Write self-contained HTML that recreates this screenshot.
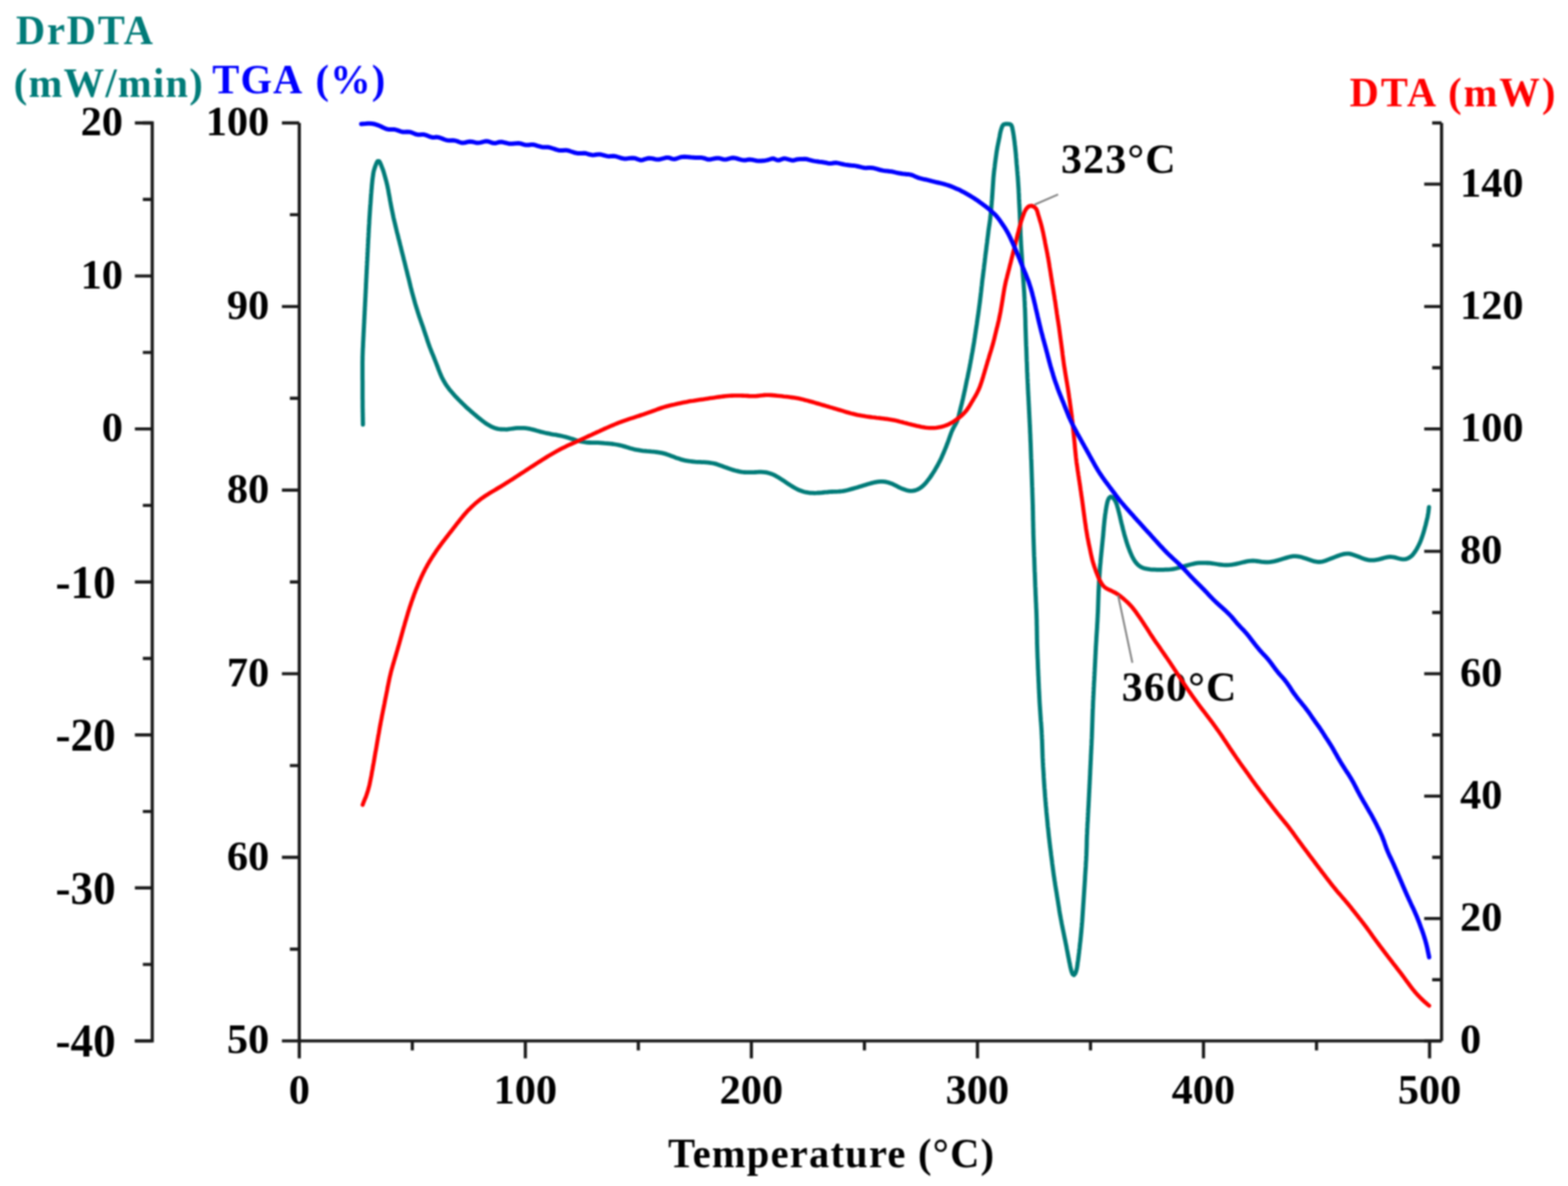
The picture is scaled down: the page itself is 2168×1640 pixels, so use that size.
<!DOCTYPE html>
<html><head><meta charset="utf-8"><title>TGA / DTA / DrDTA</title>
<style>
html,body{margin:0;padding:0;background:#fff;}
body{width:2168px;height:1640px;overflow:hidden;}
svg{display:block;filter:blur(1px);}
</style></head>
<body>
<svg width="2168" height="1640" viewBox="0 0 2168 1640" xmlns="http://www.w3.org/2000/svg">
<rect width="2168" height="1640" fill="#fff"/>
<g font-family="'Liberation Serif','Times New Roman',serif" font-weight="bold" font-size="56" fill="#000">
<path d="M197.5 170.0 H210.5 V1439.4 H186.5" stroke="#1a1a1a" stroke-width="4.4" fill="none" stroke-linecap="butt"/>
<path d="M186.5 170.0 H210.5 M197.5 275.8 H210.5 M186.5 381.6 H210.5 M197.5 487.4 H210.5 M186.5 593.1 H210.5 M197.5 698.9 H210.5 M186.5 804.7 H210.5 M197.5 910.5 H210.5 M186.5 1016.3 H210.5 M197.5 1122.1 H210.5 M186.5 1227.8 H210.5 M197.5 1333.6 H210.5 M186.5 1439.4 H210.5" stroke="#1a1a1a" stroke-width="4.4" fill="none" stroke-linecap="butt"/>
<text transform="translate(170.0 187.0) scale(1.045 1)" text-anchor="end">20</text>
<text transform="translate(170.0 398.6) scale(1.045 1)" text-anchor="end">10</text>
<text transform="translate(170.0 610.1) scale(1.045 1)" text-anchor="end">0</text>
<text transform="translate(160.0 826.7) scale(0.96 1)" text-anchor="end" font-size="65">-10</text>
<text transform="translate(160.0 1038.3) scale(0.96 1)" text-anchor="end" font-size="65">-20</text>
<text transform="translate(160.0 1249.8) scale(0.96 1)" text-anchor="end" font-size="65">-30</text>
<text transform="translate(160.0 1461.4) scale(0.96 1)" text-anchor="end" font-size="65">-40</text>
<path d="M413.8 170.0 V1439.4" stroke="#1a1a1a" stroke-width="4.4" fill="none" stroke-linecap="butt"/>
<path d="M389.8 170.0 H413.8 M400.8 296.9 H413.8 M389.8 423.9 H413.8 M400.8 550.8 H413.8 M389.8 677.8 H413.8 M400.8 804.7 H413.8 M389.8 931.6 H413.8 M400.8 1058.6 H413.8 M389.8 1185.5 H413.8 M400.8 1312.5 H413.8 M389.8 1439.4 H413.8" stroke="#1a1a1a" stroke-width="4.4" fill="none" stroke-linecap="butt"/>
<text transform="translate(372.3 187.0) scale(1.045 1)" text-anchor="end">100</text>
<text transform="translate(372.3 440.9) scale(1.045 1)" text-anchor="end">90</text>
<text transform="translate(372.3 694.8) scale(1.045 1)" text-anchor="end">80</text>
<text transform="translate(372.3 948.6) scale(1.045 1)" text-anchor="end">70</text>
<text transform="translate(372.3 1202.5) scale(1.045 1)" text-anchor="end">60</text>
<text transform="translate(372.3 1456.4) scale(1.045 1)" text-anchor="end">50</text>
<path d="M1993.2 170.0 V1439.4" stroke="#1a1a1a" stroke-width="4.4" fill="none" stroke-linecap="butt"/>
<path d="M1969.2 1439.4 H1993.2 M1980.2 1354.8 H1993.2 M1969.2 1270.1 H1993.2 M1980.2 1185.5 H1993.2 M1969.2 1100.9 H1993.2 M1980.2 1016.3 H1993.2 M1969.2 931.6 H1993.2 M1980.2 847.0 H1993.2 M1969.2 762.4 H1993.2 M1980.2 677.8 H1993.2 M1969.2 593.1 H1993.2 M1980.2 508.5 H1993.2 M1969.2 423.9 H1993.2 M1980.2 339.3 H1993.2 M1969.2 254.6 H1993.2 M1980.2 170.0 H1993.2" stroke="#1a1a1a" stroke-width="4.4" fill="none" stroke-linecap="butt"/>
<text transform="translate(2018.7 1456.4) scale(1.045 1)" text-anchor="start">0</text>
<text transform="translate(2018.7 1287.1) scale(1.045 1)" text-anchor="start">20</text>
<text transform="translate(2018.7 1117.9) scale(1.045 1)" text-anchor="start">40</text>
<text transform="translate(2018.7 948.6) scale(1.045 1)" text-anchor="start">60</text>
<text transform="translate(2018.7 779.4) scale(1.045 1)" text-anchor="start">80</text>
<text transform="translate(2018.7 610.1) scale(1.045 1)" text-anchor="start">100</text>
<text transform="translate(2018.7 440.9) scale(1.045 1)" text-anchor="start">120</text>
<text transform="translate(2018.7 271.6) scale(1.045 1)" text-anchor="start">140</text>
<path d="M413.8 1439.4 H1993.2" stroke="#1a1a1a" stroke-width="4.4" fill="none" stroke-linecap="butt"/>
<path d="M413.8 1439.4 V1463.4 M570.1 1439.4 V1452.4 M726.4 1439.4 V1463.4 M882.6 1439.4 V1452.4 M1038.9 1439.4 V1463.4 M1195.2 1439.4 V1452.4 M1351.5 1439.4 V1463.4 M1507.8 1439.4 V1452.4 M1664.0 1439.4 V1463.4 M1820.3 1439.4 V1452.4 M1976.6 1439.4 V1463.4" stroke="#1a1a1a" stroke-width="4.4" fill="none" stroke-linecap="butt"/>
<text transform="translate(413.8 1526) scale(1.045 1)" text-anchor="middle">0</text>
<text transform="translate(726.4 1526) scale(1.045 1)" text-anchor="middle">100</text>
<text transform="translate(1038.9 1526) scale(1.045 1)" text-anchor="middle">200</text>
<text transform="translate(1351.5 1526) scale(1.045 1)" text-anchor="middle">300</text>
<text transform="translate(1664.0 1526) scale(1.045 1)" text-anchor="middle">400</text>
<text transform="translate(1976.6 1526) scale(1.045 1)" text-anchor="middle">500</text>
<text x="1467" y="239.3" font-size="58" letter-spacing="1.6">323°C</text>
<text x="1551" y="969" font-size="58" letter-spacing="1.6">360°C</text>
</g>
<g>
<path d="M501.8 587.0 L501.8 584.0 L501.7 581.0 L501.7 578.0 L501.6 575.0 L501.6 572.0 L501.5 569.0 L501.5 566.0 L501.4 563.0 L501.4 560.0 L501.4 557.0 L501.4 554.0 L501.3 551.0 L501.3 548.0 L501.3 545.0 L501.3 542.0 L501.3 539.0 L501.3 536.0 L501.3 533.0 L501.3 530.0 L501.3 527.0 L501.2 524.0 L501.2 521.0 L501.2 518.0 L501.2 515.0 L501.2 512.0 L501.2 509.0 L501.2 506.0 L501.2 503.0 L501.2 500.0 L501.3 497.0 L501.3 494.0 L501.4 491.0 L501.5 488.0 L501.6 485.0 L501.7 482.0 L501.9 479.0 L502.0 476.0 L502.1 473.0 L502.3 470.0 L502.4 467.0 L502.6 464.0 L502.7 461.0 L502.9 458.0 L503.0 455.0 L503.2 452.0 L503.3 449.1 L503.5 446.1 L503.6 443.1 L503.8 440.1 L503.9 437.1 L504.1 434.1 L504.2 431.1 L504.4 428.1 L504.5 425.1 L504.7 422.1 L504.8 419.1 L505.0 416.1 L505.1 413.1 L505.3 410.1 L505.4 407.1 L505.6 404.1 L505.7 401.1 L505.9 398.1 L506.0 395.1 L506.1 392.1 L506.3 389.1 L506.4 386.1 L506.6 383.1 L506.7 380.1 L506.9 377.1 L507.0 374.1 L507.2 371.1 L507.3 368.2 L507.5 365.2 L507.6 362.2 L507.8 359.2 L507.9 356.2 L508.1 353.2 L508.2 350.2 L508.4 347.2 L508.5 344.2 L508.7 341.2 L508.8 338.2 L509.0 335.2 L509.1 332.2 L509.3 329.2 L509.5 326.2 L509.6 323.2 L509.8 320.2 L509.9 317.2 L510.1 314.2 L510.3 311.2 L510.5 308.2 L510.6 305.2 L510.8 302.2 L511.0 299.2 L511.2 296.3 L511.4 293.3 L511.6 290.3 L511.8 287.3 L512.0 284.3 L512.3 281.3 L512.5 278.3 L512.7 275.3 L512.9 272.3 L513.1 269.3 L513.4 266.3 L513.6 263.3 L513.9 260.4 L514.1 257.4 L514.4 254.4 L514.7 251.4 L515.0 248.4 L515.4 245.4 L515.8 242.5 L516.2 239.5 L516.8 236.6 L517.6 233.7 L518.6 230.8 L519.6 228.0 L520.7 225.2 L522.2 222.8 L524.3 222.9 L525.8 225.5 L526.9 228.2 L528.0 231.0 L529.1 233.8 L530.1 236.6 L531.0 239.5 L531.8 242.4 L532.6 245.3 L533.4 248.2 L534.2 251.1 L534.9 254.0 L535.6 256.9 L536.2 259.8 L536.8 262.8 L537.3 265.7 L537.8 268.7 L538.4 271.6 L538.9 274.6 L539.4 277.5 L540.0 280.5 L540.5 283.4 L541.1 286.4 L541.7 289.3 L542.3 292.3 L542.9 295.2 L543.5 298.1 L544.1 301.1 L544.8 304.0 L545.5 306.9 L546.2 309.8 L546.9 312.7 L547.6 315.7 L548.3 318.6 L549.0 321.5 L549.8 324.4 L550.5 327.3 L551.2 330.2 L552.0 333.1 L552.7 336.0 L553.4 338.9 L554.2 341.8 L554.9 344.8 L555.6 347.7 L556.3 350.6 L557.1 353.5 L557.8 356.4 L558.5 359.3 L559.3 362.2 L560.0 365.1 L560.7 368.0 L561.4 370.9 L562.2 373.9 L562.9 376.8 L563.6 379.7 L564.3 382.6 L565.1 385.5 L565.8 388.4 L566.5 391.3 L567.2 394.2 L567.9 397.2 L568.7 400.1 L569.4 403.0 L570.2 405.9 L571.0 408.8 L571.8 411.7 L572.6 414.5 L573.4 417.4 L574.2 420.3 L575.1 423.2 L576.0 426.1 L576.9 428.9 L577.8 431.8 L578.7 434.6 L579.6 437.5 L580.6 440.3 L581.6 443.1 L582.6 446.0 L583.6 448.8 L584.6 451.6 L585.6 454.5 L586.5 457.3 L587.5 460.2 L588.4 463.0 L589.4 465.8 L590.3 468.7 L591.2 471.5 L592.2 474.4 L593.2 477.2 L594.2 480.0 L595.3 482.8 L596.4 485.6 L597.5 488.4 L598.7 491.2 L599.8 493.9 L600.9 496.7 L602.0 499.5 L603.1 502.3 L604.2 505.1 L605.3 507.9 L606.3 510.7 L607.4 513.5 L608.5 516.3 L609.7 519.0 L610.9 521.8 L612.3 524.4 L613.7 527.1 L615.2 529.6 L616.8 532.1 L618.5 534.6 L620.3 537.0 L622.1 539.4 L624.1 541.7 L626.0 543.9 L628.0 546.2 L630.1 548.4 L632.1 550.5 L634.2 552.7 L636.3 554.8 L638.4 556.9 L640.6 559.0 L642.8 561.1 L644.9 563.2 L647.2 565.2 L649.4 567.2 L651.6 569.2 L653.9 571.1 L656.2 573.1 L658.5 575.0 L660.8 576.9 L663.1 578.8 L665.5 580.7 L667.8 582.5 L670.2 584.3 L672.7 586.0 L675.2 587.6 L677.8 589.1 L680.4 590.4 L683.1 591.5 L685.9 592.4 L688.7 593.1 L691.6 593.5 L694.6 593.7 L697.5 593.7 L700.5 593.8 L703.4 593.4 L706.4 593.0 L709.4 592.6 L712.4 592.2 L715.3 591.9 L718.3 591.8 L721.3 591.8 L724.3 591.9 L727.3 592.2 L730.3 592.6 L733.2 593.2 L736.1 593.9 L739.0 594.6 L741.9 595.5 L744.8 596.3 L747.7 597.1 L750.6 597.8 L753.5 598.5 L756.4 599.1 L759.4 599.7 L762.3 600.3 L765.3 600.8 L768.2 601.2 L771.2 601.8 L774.1 602.4 L777.1 603.0 L780.0 603.7 L782.9 604.4 L785.8 605.3 L788.6 606.2 L791.5 607.1 L794.3 608.1 L797.2 609.0 L800.1 609.7 L803.0 610.4 L805.9 611.0 L808.9 611.5 L811.8 611.9 L814.8 612.0 L817.8 612.1 L820.8 612.1 L823.8 612.1 L826.8 612.2 L829.8 612.4 L832.8 612.6 L835.8 612.9 L838.8 613.1 L841.8 613.4 L844.7 613.7 L847.7 614.0 L850.7 614.5 L853.6 615.0 L856.6 615.6 L859.5 616.3 L862.4 617.1 L865.3 617.9 L868.1 618.8 L871.0 619.7 L873.9 620.5 L876.8 621.3 L879.7 621.9 L882.7 622.4 L885.6 622.9 L888.6 623.3 L891.6 623.6 L894.6 623.9 L897.5 624.1 L900.5 624.4 L903.5 624.6 L906.5 625.0 L909.5 625.3 L912.4 625.8 L915.4 626.4 L918.3 627.1 L921.2 627.9 L924.0 628.9 L926.8 630.0 L929.6 631.1 L932.4 632.1 L935.2 633.2 L938.0 634.1 L940.9 635.1 L943.8 635.9 L946.7 636.6 L949.6 637.2 L952.6 637.6 L955.6 638.0 L958.5 638.3 L961.5 638.6 L964.5 638.8 L967.5 638.9 L970.5 639.1 L973.5 639.2 L976.5 639.4 L979.5 639.7 L982.5 640.1 L985.4 640.5 L988.3 641.1 L991.2 641.9 L994.1 642.9 L996.9 643.9 L999.7 645.0 L1002.5 646.1 L1005.3 647.1 L1008.1 648.1 L1011.0 649.0 L1013.8 649.9 L1016.7 650.7 L1019.6 651.4 L1022.6 652.1 L1025.5 652.6 L1028.5 653.0 L1031.5 653.2 L1034.5 653.2 L1037.4 653.2 L1040.4 653.1 L1043.4 653.0 L1046.4 652.8 L1049.4 652.7 L1052.4 652.7 L1055.4 652.8 L1058.4 653.1 L1061.3 653.7 L1064.2 654.5 L1067.0 655.4 L1069.8 656.6 L1072.4 657.9 L1075.0 659.4 L1077.6 661.0 L1080.1 662.6 L1082.6 664.2 L1085.1 665.9 L1087.6 667.6 L1090.1 669.3 L1092.6 670.9 L1095.2 672.5 L1097.7 674.0 L1100.4 675.5 L1103.0 676.8 L1105.7 678.1 L1108.5 679.1 L1111.4 680.0 L1114.3 680.7 L1117.3 681.2 L1120.2 681.6 L1123.2 681.7 L1126.2 681.8 L1129.2 681.7 L1132.2 681.5 L1135.2 681.3 L1138.2 681.0 L1141.2 680.7 L1144.1 680.5 L1147.1 680.2 L1150.1 680.0 L1153.1 679.9 L1156.1 679.8 L1159.1 679.7 L1162.1 679.5 L1165.1 679.1 L1168.0 678.6 L1170.9 678.0 L1173.8 677.2 L1176.7 676.4 L1179.6 675.6 L1182.5 674.8 L1185.4 674.0 L1188.3 673.1 L1191.1 672.2 L1194.0 671.3 L1196.8 670.4 L1199.7 669.5 L1202.6 668.7 L1205.5 667.9 L1208.4 667.2 L1211.3 666.6 L1214.3 666.1 L1217.3 665.9 L1220.2 665.9 L1223.2 666.2 L1226.1 666.7 L1229.0 667.4 L1231.9 668.4 L1234.6 669.5 L1237.3 670.9 L1240.0 672.2 L1242.6 673.6 L1245.3 674.9 L1248.1 676.1 L1250.9 677.1 L1253.7 678.0 L1256.6 678.6 L1259.6 678.9 L1262.5 678.7 L1265.4 678.1 L1268.1 677.1 L1270.8 675.7 L1273.3 674.1 L1275.6 672.3 L1277.8 670.2 L1279.9 668.0 L1281.7 665.7 L1283.6 663.3 L1285.4 661.0 L1287.1 658.5 L1288.8 656.0 L1290.4 653.5 L1292.0 651.0 L1293.5 648.4 L1295.0 645.8 L1296.5 643.2 L1297.9 640.5 L1299.3 637.9 L1300.6 635.2 L1301.9 632.5 L1303.1 629.7 L1304.3 627.0 L1305.5 624.2 L1306.6 621.5 L1307.8 618.7 L1308.8 615.9 L1309.9 613.1 L1311.0 610.3 L1312.0 607.4 L1313.0 604.6 L1314.0 601.8 L1315.0 599.0 L1316.1 596.2 L1317.4 593.5 L1318.7 590.9 L1320.2 588.3 L1321.6 585.7 L1322.9 583.1 L1324.0 580.4 L1324.9 577.6 L1325.7 574.7 L1326.4 571.8 L1327.1 568.9 L1327.8 566.0 L1328.5 563.0 L1329.3 560.1 L1330.0 557.2 L1330.7 554.3 L1331.4 551.4 L1332.0 548.5 L1332.7 545.5 L1333.3 542.6 L1334.0 539.7 L1334.6 536.7 L1335.2 533.8 L1335.8 530.9 L1336.4 527.9 L1337.0 525.0 L1337.7 522.1 L1338.3 519.1 L1338.9 516.2 L1339.5 513.2 L1340.1 510.3 L1340.7 507.4 L1341.2 504.4 L1341.8 501.5 L1342.3 498.5 L1342.9 495.6 L1343.4 492.6 L1343.9 489.7 L1344.5 486.7 L1345.0 483.7 L1345.5 480.8 L1346.0 477.8 L1346.5 474.9 L1347.0 471.9 L1347.4 468.9 L1347.9 466.0 L1348.3 463.0 L1348.8 460.1 L1349.2 457.1 L1349.7 454.1 L1350.1 451.2 L1350.6 448.2 L1351.0 445.2 L1351.4 442.2 L1351.8 439.3 L1352.3 436.3 L1352.7 433.3 L1353.1 430.4 L1353.5 427.4 L1353.9 424.4 L1354.3 421.4 L1354.7 418.5 L1355.1 415.5 L1355.4 412.5 L1355.8 409.5 L1356.1 406.6 L1356.5 403.6 L1356.8 400.6 L1357.1 397.6 L1357.5 394.6 L1357.8 391.7 L1358.1 388.7 L1358.5 385.7 L1358.9 382.7 L1359.3 379.7 L1359.6 376.8 L1360.0 373.8 L1360.4 370.8 L1360.7 367.8 L1361.1 364.9 L1361.5 361.9 L1361.8 358.9 L1362.2 355.9 L1362.5 352.9 L1362.9 350.0 L1363.3 347.0 L1363.7 344.0 L1364.0 341.0 L1364.4 338.1 L1364.8 335.1 L1365.1 332.1 L1365.5 329.1 L1365.9 326.1 L1366.3 323.2 L1366.6 320.2 L1367.0 317.2 L1367.4 314.3 L1367.9 311.3 L1368.3 308.3 L1368.7 305.3 L1369.1 302.4 L1369.4 299.4 L1369.8 296.4 L1370.0 293.4 L1370.3 290.4 L1370.6 287.4 L1370.8 284.5 L1371.1 281.5 L1371.3 278.5 L1371.6 275.5 L1371.8 272.5 L1372.0 269.5 L1372.2 266.5 L1372.4 263.5 L1372.6 260.5 L1372.8 257.5 L1373.0 254.5 L1373.2 251.5 L1373.4 248.5 L1373.6 245.6 L1373.9 242.6 L1374.2 239.6 L1374.5 236.6 L1374.9 233.6 L1375.3 230.6 L1375.6 227.7 L1376.0 224.7 L1376.4 221.7 L1376.8 218.7 L1377.2 215.8 L1377.6 212.8 L1378.0 209.8 L1378.5 206.9 L1379.0 203.9 L1379.6 201.0 L1380.2 198.0 L1380.8 195.1 L1381.4 192.2 L1382.0 189.2 L1382.5 186.3 L1383.1 183.3 L1383.8 180.4 L1384.7 177.5 L1385.7 174.7 L1387.3 172.3 L1390.0 171.4 L1393.0 171.3 L1396.0 171.6 L1398.3 173.0 L1399.4 175.7 L1400.0 178.6 L1400.6 181.6 L1401.1 184.5 L1401.6 187.5 L1402.0 190.5 L1402.4 193.4 L1402.8 196.4 L1403.1 199.4 L1403.5 202.4 L1403.8 205.4 L1404.1 208.3 L1404.4 211.3 L1404.7 214.3 L1404.9 217.3 L1405.2 220.3 L1405.4 223.3 L1405.6 226.3 L1405.9 229.3 L1406.2 232.3 L1406.4 235.2 L1406.7 238.2 L1406.9 241.2 L1407.2 244.2 L1407.4 247.2 L1407.6 250.2 L1407.8 253.2 L1408.0 256.2 L1408.2 259.2 L1408.4 262.2 L1408.5 265.2 L1408.7 268.2 L1408.8 271.2 L1408.9 274.2 L1409.1 277.2 L1409.2 280.2 L1409.4 283.2 L1409.5 286.1 L1409.7 289.1 L1409.8 292.1 L1410.0 295.1 L1410.1 298.1 L1410.2 301.1 L1410.4 304.1 L1410.5 307.1 L1410.6 310.1 L1410.7 313.1 L1410.8 316.1 L1410.9 319.1 L1411.0 322.1 L1411.1 325.1 L1411.3 328.1 L1411.4 331.1 L1411.6 334.1 L1411.7 337.1 L1411.9 340.1 L1412.1 343.1 L1412.3 346.1 L1412.5 349.1 L1412.7 352.1 L1412.9 355.1 L1413.1 358.1 L1413.2 361.1 L1413.4 364.0 L1413.5 367.0 L1413.7 370.0 L1413.9 373.0 L1414.1 376.0 L1414.3 379.0 L1414.5 382.0 L1414.8 385.0 L1415.0 388.0 L1415.2 391.0 L1415.4 394.0 L1415.6 397.0 L1415.8 400.0 L1416.0 403.0 L1416.2 406.0 L1416.3 409.0 L1416.5 411.9 L1416.6 414.9 L1416.8 417.9 L1416.9 420.9 L1417.0 423.9 L1417.2 426.9 L1417.3 429.9 L1417.4 432.9 L1417.5 435.9 L1417.6 438.9 L1417.7 441.9 L1417.8 444.9 L1417.8 447.9 L1417.9 450.9 L1418.0 453.9 L1418.1 456.9 L1418.2 459.9 L1418.3 462.9 L1418.4 465.9 L1418.5 468.9 L1418.6 471.9 L1418.7 474.9 L1418.8 477.9 L1419.0 480.9 L1419.1 483.9 L1419.2 486.9 L1419.3 489.9 L1419.4 492.9 L1419.5 495.9 L1419.6 498.9 L1419.8 501.9 L1419.9 504.9 L1420.0 507.9 L1420.1 510.9 L1420.2 513.9 L1420.4 516.9 L1420.5 519.9 L1420.6 522.9 L1420.8 525.9 L1420.9 528.9 L1421.1 531.9 L1421.2 534.9 L1421.3 537.8 L1421.5 540.8 L1421.6 543.8 L1421.8 546.8 L1422.0 549.8 L1422.1 552.8 L1422.3 555.8 L1422.4 558.8 L1422.6 561.8 L1422.7 564.8 L1422.9 567.8 L1423.0 570.8 L1423.2 573.8 L1423.3 576.8 L1423.5 579.8 L1423.6 582.8 L1423.8 585.8 L1423.9 588.8 L1424.1 591.8 L1424.2 594.8 L1424.3 597.8 L1424.5 600.8 L1424.6 603.8 L1424.7 606.8 L1424.8 609.8 L1425.0 612.8 L1425.1 615.8 L1425.2 618.8 L1425.3 621.8 L1425.4 624.8 L1425.5 627.8 L1425.6 630.7 L1425.7 633.7 L1425.9 636.7 L1426.0 639.7 L1426.1 642.7 L1426.2 645.7 L1426.3 648.7 L1426.4 651.7 L1426.5 654.7 L1426.6 657.7 L1426.7 660.7 L1426.8 663.7 L1426.9 666.7 L1427.0 669.7 L1427.1 672.7 L1427.3 675.7 L1427.3 678.7 L1427.4 681.7 L1427.5 684.7 L1427.6 687.7 L1427.7 690.7 L1427.8 693.7 L1427.9 696.7 L1428.0 699.7 L1428.0 702.7 L1428.1 705.7 L1428.2 708.7 L1428.2 711.7 L1428.3 714.7 L1428.3 717.7 L1428.4 720.7 L1428.5 723.7 L1428.5 726.7 L1428.6 729.7 L1428.7 732.7 L1428.7 735.7 L1428.8 738.7 L1428.9 741.7 L1429.0 744.7 L1429.1 747.7 L1429.2 750.7 L1429.3 753.7 L1429.4 756.7 L1429.5 759.7 L1429.6 762.7 L1429.7 765.7 L1429.8 768.7 L1430.0 771.7 L1430.1 774.7 L1430.2 777.7 L1430.3 780.7 L1430.4 783.7 L1430.5 786.7 L1430.6 789.7 L1430.8 792.7 L1430.9 795.7 L1431.0 798.7 L1431.1 801.7 L1431.2 804.7 L1431.3 807.7 L1431.4 810.7 L1431.6 813.6 L1431.7 816.6 L1431.8 819.6 L1431.9 822.6 L1432.1 825.6 L1432.2 828.6 L1432.3 831.6 L1432.5 834.6 L1432.6 837.6 L1432.7 840.6 L1432.9 843.6 L1433.0 846.6 L1433.1 849.6 L1433.2 852.6 L1433.3 855.6 L1433.4 858.6 L1433.4 861.6 L1433.5 864.6 L1433.6 867.6 L1433.6 870.6 L1433.7 873.6 L1433.7 876.6 L1433.8 879.6 L1433.8 882.6 L1433.9 885.6 L1433.9 888.6 L1434.0 891.6 L1434.1 894.6 L1434.2 897.6 L1434.3 900.6 L1434.4 903.6 L1434.5 906.6 L1434.6 909.6 L1434.8 912.6 L1434.9 915.6 L1435.0 918.6 L1435.1 921.6 L1435.2 924.6 L1435.4 927.6 L1435.5 930.6 L1435.6 933.6 L1435.8 936.6 L1435.9 939.6 L1436.0 942.6 L1436.2 945.6 L1436.3 948.6 L1436.4 951.6 L1436.6 954.6 L1436.7 957.5 L1436.9 960.5 L1437.0 963.5 L1437.2 966.5 L1437.3 969.5 L1437.5 972.5 L1437.7 975.5 L1437.9 978.5 L1438.1 981.5 L1438.3 984.5 L1438.5 987.5 L1438.7 990.5 L1438.9 993.5 L1439.1 996.5 L1439.4 999.5 L1439.6 1002.5 L1439.8 1005.4 L1440.0 1008.4 L1440.2 1011.4 L1440.3 1014.4 L1440.5 1017.4 L1440.6 1020.4 L1440.8 1023.4 L1440.9 1026.4 L1441.0 1029.4 L1441.1 1032.4 L1441.2 1035.4 L1441.3 1038.4 L1441.4 1041.4 L1441.5 1044.4 L1441.6 1047.4 L1441.8 1050.4 L1441.9 1053.4 L1442.1 1056.4 L1442.2 1059.4 L1442.4 1062.4 L1442.6 1065.4 L1442.8 1068.4 L1443.0 1071.4 L1443.1 1074.4 L1443.3 1077.4 L1443.5 1080.3 L1443.7 1083.3 L1443.9 1086.3 L1444.1 1089.3 L1444.4 1092.3 L1444.6 1095.3 L1444.8 1098.3 L1445.0 1101.3 L1445.3 1104.3 L1445.5 1107.3 L1445.8 1110.3 L1446.0 1113.3 L1446.3 1116.2 L1446.6 1119.2 L1446.8 1122.2 L1447.1 1125.2 L1447.4 1128.2 L1447.7 1131.2 L1448.0 1134.2 L1448.3 1137.1 L1448.5 1140.1 L1448.8 1143.1 L1449.2 1146.1 L1449.5 1149.1 L1449.8 1152.1 L1450.1 1155.1 L1450.4 1158.0 L1450.8 1161.0 L1451.1 1164.0 L1451.5 1167.0 L1451.8 1170.0 L1452.2 1172.9 L1452.6 1175.9 L1453.0 1178.9 L1453.3 1181.9 L1453.7 1184.8 L1454.1 1187.8 L1454.5 1190.8 L1454.8 1193.8 L1455.2 1196.7 L1455.6 1199.7 L1456.0 1202.7 L1456.4 1205.7 L1456.8 1208.6 L1457.2 1211.6 L1457.7 1214.6 L1458.1 1217.5 L1458.6 1220.5 L1459.0 1223.5 L1459.5 1226.4 L1460.0 1229.4 L1460.5 1232.4 L1461.0 1235.3 L1461.4 1238.3 L1461.9 1241.2 L1462.4 1244.2 L1462.9 1247.2 L1463.3 1250.1 L1463.8 1253.1 L1464.3 1256.0 L1464.7 1259.0 L1465.2 1262.0 L1465.7 1264.9 L1466.3 1267.9 L1466.8 1270.8 L1467.4 1273.8 L1467.9 1276.7 L1468.5 1279.7 L1469.1 1282.6 L1469.7 1285.5 L1470.3 1288.5 L1470.9 1291.4 L1471.5 1294.4 L1472.1 1297.3 L1472.7 1300.2 L1473.3 1303.2 L1473.9 1306.1 L1474.5 1309.1 L1475.0 1312.0 L1475.6 1315.0 L1476.2 1317.9 L1476.7 1320.9 L1477.3 1323.8 L1477.9 1326.7 L1478.4 1329.7 L1479.1 1332.6 L1479.6 1335.6 L1480.3 1338.5 L1481.0 1341.4 L1481.9 1344.3 L1483.1 1347.0 L1485.0 1348.3 L1486.7 1346.2 L1487.8 1343.4 L1488.6 1340.5 L1489.2 1337.6 L1489.7 1334.6 L1490.0 1331.6 L1490.5 1328.7 L1490.9 1325.7 L1491.3 1322.7 L1491.6 1319.8 L1492.0 1316.8 L1492.3 1313.8 L1492.7 1310.8 L1493.0 1307.8 L1493.3 1304.9 L1493.7 1301.9 L1494.0 1298.9 L1494.3 1295.9 L1494.6 1292.9 L1494.9 1289.9 L1495.2 1286.9 L1495.4 1284.0 L1495.7 1281.0 L1495.9 1278.0 L1496.2 1275.0 L1496.4 1272.0 L1496.6 1269.0 L1496.8 1266.0 L1497.0 1263.0 L1497.2 1260.0 L1497.4 1257.0 L1497.6 1254.0 L1497.8 1251.0 L1498.0 1248.1 L1498.2 1245.1 L1498.4 1242.1 L1498.6 1239.1 L1498.8 1236.1 L1499.0 1233.1 L1499.2 1230.1 L1499.4 1227.1 L1499.6 1224.1 L1499.8 1221.1 L1500.0 1218.1 L1500.2 1215.1 L1500.3 1212.1 L1500.5 1209.1 L1500.7 1206.1 L1500.9 1203.1 L1501.1 1200.2 L1501.3 1197.2 L1501.4 1194.2 L1501.6 1191.2 L1501.8 1188.2 L1501.9 1185.2 L1502.1 1182.2 L1502.2 1179.2 L1502.3 1176.2 L1502.4 1173.2 L1502.5 1170.2 L1502.6 1167.2 L1502.6 1164.2 L1502.7 1161.2 L1502.8 1158.2 L1502.9 1155.2 L1503.1 1152.2 L1503.2 1149.2 L1503.3 1146.2 L1503.5 1143.2 L1503.6 1140.2 L1503.8 1137.2 L1504.0 1134.2 L1504.1 1131.2 L1504.3 1128.2 L1504.4 1125.2 L1504.6 1122.2 L1504.7 1119.2 L1504.9 1116.2 L1505.1 1113.3 L1505.2 1110.3 L1505.4 1107.3 L1505.5 1104.3 L1505.7 1101.3 L1505.8 1098.3 L1506.0 1095.3 L1506.1 1092.3 L1506.3 1089.3 L1506.4 1086.3 L1506.6 1083.3 L1506.7 1080.3 L1506.9 1077.3 L1507.0 1074.3 L1507.2 1071.3 L1507.3 1068.3 L1507.4 1065.3 L1507.6 1062.3 L1507.7 1059.3 L1507.9 1056.3 L1508.0 1053.3 L1508.2 1050.3 L1508.3 1047.3 L1508.4 1044.3 L1508.6 1041.3 L1508.7 1038.3 L1508.9 1035.3 L1509.0 1032.3 L1509.2 1029.4 L1509.3 1026.4 L1509.4 1023.4 L1509.6 1020.4 L1509.7 1017.4 L1509.8 1014.4 L1509.9 1011.4 L1510.0 1008.4 L1510.1 1005.4 L1510.2 1002.4 L1510.3 999.4 L1510.4 996.4 L1510.5 993.4 L1510.6 990.4 L1510.7 987.4 L1510.8 984.4 L1510.9 981.4 L1511.1 978.4 L1511.2 975.4 L1511.3 972.4 L1511.4 969.4 L1511.6 966.4 L1511.7 963.4 L1511.9 960.4 L1512.0 957.4 L1512.2 954.4 L1512.3 951.4 L1512.5 948.4 L1512.6 945.4 L1512.8 942.4 L1513.0 939.4 L1513.1 936.4 L1513.3 933.4 L1513.4 930.4 L1513.6 927.4 L1513.7 924.5 L1513.9 921.5 L1514.0 918.5 L1514.2 915.5 L1514.3 912.5 L1514.5 909.5 L1514.6 906.5 L1514.8 903.5 L1514.9 900.5 L1515.1 897.5 L1515.2 894.5 L1515.4 891.5 L1515.6 888.5 L1515.8 885.5 L1515.9 882.5 L1516.1 879.5 L1516.3 876.5 L1516.5 873.5 L1516.7 870.5 L1516.9 867.5 L1517.0 864.5 L1517.2 861.6 L1517.4 858.6 L1517.5 855.6 L1517.7 852.6 L1517.8 849.6 L1518.0 846.6 L1518.1 843.6 L1518.2 840.6 L1518.3 837.6 L1518.4 834.6 L1518.5 831.6 L1518.6 828.6 L1518.7 825.6 L1518.8 822.6 L1518.9 819.6 L1519.0 816.6 L1519.2 813.6 L1519.3 810.6 L1519.5 807.6 L1519.6 804.6 L1519.8 801.6 L1520.0 798.6 L1520.2 795.6 L1520.4 792.6 L1520.6 789.6 L1520.8 786.6 L1521.0 783.7 L1521.3 780.7 L1521.6 777.7 L1521.8 774.7 L1522.1 771.7 L1522.4 768.7 L1522.7 765.7 L1523.0 762.7 L1523.3 759.8 L1523.6 756.8 L1523.9 753.8 L1524.2 750.8 L1524.5 747.8 L1524.8 744.8 L1525.1 741.9 L1525.4 738.9 L1525.6 735.9 L1525.9 732.9 L1526.1 729.9 L1526.4 726.9 L1526.7 723.9 L1527.0 720.9 L1527.3 718.0 L1527.7 715.0 L1528.0 712.0 L1528.5 709.0 L1528.9 706.1 L1529.4 703.1 L1529.9 700.1 L1530.5 697.2 L1531.1 694.3 L1532.0 691.4 L1533.3 688.7 L1535.4 686.9 L1538.0 687.5 L1540.0 689.6 L1541.7 692.1 L1543.0 694.8 L1544.1 697.6 L1544.9 700.5 L1545.8 703.4 L1546.5 706.3 L1547.3 709.2 L1548.0 712.1 L1548.7 715.0 L1549.3 717.9 L1550.0 720.9 L1550.7 723.8 L1551.5 726.7 L1552.2 729.6 L1552.9 732.5 L1553.7 735.4 L1554.4 738.3 L1555.2 741.2 L1556.1 744.1 L1556.9 747.0 L1557.8 749.8 L1558.7 752.7 L1559.7 755.5 L1560.7 758.3 L1561.8 761.1 L1562.9 763.9 L1564.1 766.7 L1565.3 769.4 L1566.7 772.0 L1568.2 774.6 L1569.9 777.1 L1571.8 779.4 L1573.9 781.5 L1576.2 783.2 L1578.8 784.6 L1581.6 785.7 L1584.5 786.4 L1587.4 786.9 L1590.4 787.3 L1593.4 787.6 L1596.4 787.7 L1599.4 787.8 L1602.4 787.8 L1605.4 787.8 L1608.4 787.8 L1611.4 787.7 L1614.4 787.6 L1617.4 787.4 L1620.3 787.1 L1623.3 786.6 L1626.2 786.0 L1629.1 785.2 L1632.0 784.4 L1634.9 783.6 L1637.8 782.9 L1640.7 782.1 L1643.6 781.3 L1646.5 780.5 L1649.4 779.8 L1652.3 779.2 L1655.3 778.7 L1658.2 778.4 L1661.2 778.3 L1664.2 778.3 L1667.2 778.3 L1670.2 778.5 L1673.2 778.7 L1676.2 779.1 L1679.1 779.5 L1682.1 780.0 L1685.1 780.5 L1688.0 780.8 L1691.0 781.1 L1694.0 781.3 L1697.0 781.3 L1700.0 781.1 L1703.0 780.8 L1705.9 780.4 L1708.9 779.8 L1711.8 779.2 L1714.7 778.5 L1717.6 777.8 L1720.6 777.1 L1723.5 776.4 L1726.4 775.9 L1729.4 775.6 L1732.3 775.5 L1735.3 775.7 L1738.3 776.0 L1741.3 776.3 L1744.2 776.8 L1747.2 777.1 L1750.2 777.4 L1753.2 777.4 L1756.1 777.2 L1759.1 776.7 L1762.0 776.1 L1764.9 775.4 L1767.8 774.6 L1770.7 773.7 L1773.6 772.8 L1776.4 771.9 L1779.3 771.1 L1782.2 770.3 L1785.1 769.6 L1788.0 769.2 L1791.0 769.1 L1793.9 769.3 L1796.9 769.8 L1799.8 770.5 L1802.7 771.4 L1805.5 772.3 L1808.3 773.3 L1811.2 774.3 L1814.0 775.3 L1816.9 776.1 L1819.8 776.7 L1822.7 777.1 L1825.7 777.0 L1828.6 776.6 L1831.4 775.7 L1834.2 774.7 L1837.0 773.6 L1839.8 772.5 L1842.6 771.5 L1845.4 770.4 L1848.2 769.3 L1851.0 768.2 L1853.8 767.3 L1856.7 766.4 L1859.6 765.8 L1862.6 765.6 L1865.5 765.7 L1868.4 766.3 L1871.2 767.2 L1874.1 768.2 L1876.9 769.2 L1879.6 770.3 L1882.4 771.4 L1885.3 772.4 L1888.1 773.4 L1891.0 774.1 L1893.9 774.6 L1896.9 774.7 L1899.9 774.6 L1902.8 774.2 L1905.8 773.6 L1908.7 772.9 L1911.5 772.1 L1914.4 771.3 L1917.3 770.6 L1920.2 770.1 L1923.1 770.0 L1926.1 770.4 L1929.0 770.9 L1931.9 771.7 L1934.8 772.5 L1937.7 773.1 L1940.6 773.3 L1943.5 773.1 L1946.3 772.3 L1948.8 770.9 L1951.2 769.2 L1953.3 767.1 L1955.1 764.8 L1956.9 762.3 L1958.5 759.8 L1959.9 757.2 L1961.3 754.5 L1962.6 751.8 L1963.8 749.1 L1964.9 746.3 L1965.9 743.5 L1966.9 740.6 L1967.8 737.8 L1968.7 734.9 L1969.5 732.0 L1970.3 729.1 L1971.1 726.2 L1971.8 723.3 L1972.5 720.4 L1973.2 717.5 L1973.9 714.6 L1974.4 711.6 L1974.9 708.7 L1975.3 705.7 L1975.6 702.7 L1975.8 701.2" stroke="#007b78" stroke-width="5.8" fill="none" stroke-linejoin="round" stroke-linecap="round"/>
<path d="M501.4 1112.9 L502.5 1110.1 L503.6 1107.3 L504.7 1104.5 L505.9 1101.8 L506.9 1098.9 L507.8 1096.1 L508.7 1093.3 L509.5 1090.4 L510.3 1087.5 L511.0 1084.6 L511.6 1081.7 L512.2 1078.7 L512.8 1075.8 L513.4 1072.8 L513.9 1069.9 L514.4 1066.9 L515.0 1064.0 L515.5 1061.0 L516.0 1058.1 L516.6 1055.1 L517.1 1052.2 L517.6 1049.2 L518.1 1046.3 L518.6 1043.3 L519.1 1040.3 L519.7 1037.4 L520.2 1034.4 L520.7 1031.5 L521.2 1028.5 L521.7 1025.6 L522.2 1022.6 L522.7 1019.6 L523.2 1016.7 L523.8 1013.7 L524.3 1010.8 L524.8 1007.8 L525.3 1004.9 L525.9 1001.9 L526.4 999.0 L527.0 996.0 L527.6 993.1 L528.1 990.1 L528.7 987.2 L529.3 984.3 L529.9 981.3 L530.5 978.4 L531.1 975.4 L531.7 972.5 L532.2 969.5 L532.8 966.6 L533.4 963.7 L534.0 960.7 L534.6 957.8 L535.2 954.8 L535.7 951.9 L536.3 948.9 L536.9 946.0 L537.5 943.1 L538.1 940.1 L538.7 937.2 L539.4 934.3 L540.1 931.4 L540.8 928.4 L541.6 925.5 L542.4 922.7 L543.2 919.8 L544.1 916.9 L544.9 914.0 L545.8 911.2 L546.6 908.3 L547.5 905.4 L548.3 902.5 L549.2 899.6 L550.0 896.8 L550.8 893.9 L551.7 891.0 L552.5 888.1 L553.3 885.2 L554.1 882.3 L554.9 879.4 L555.7 876.6 L556.5 873.7 L557.3 870.8 L558.1 867.9 L559.0 865.0 L559.8 862.1 L560.6 859.2 L561.5 856.4 L562.3 853.5 L563.2 850.6 L564.0 847.7 L564.9 844.9 L565.8 842.0 L566.7 839.1 L567.7 836.3 L568.6 833.4 L569.6 830.6 L570.6 827.8 L571.6 825.0 L572.6 822.1 L573.7 819.3 L574.7 816.5 L575.9 813.7 L577.0 811.0 L578.1 808.2 L579.3 805.4 L580.5 802.7 L581.7 799.9 L582.9 797.2 L584.2 794.5 L585.5 791.8 L586.9 789.1 L588.2 786.4 L589.7 783.8 L591.1 781.2 L592.6 778.6 L594.1 776.0 L595.7 773.5 L597.3 770.9 L598.9 768.4 L600.6 765.9 L602.2 763.4 L603.9 760.9 L605.6 758.5 L607.4 756.0 L609.2 753.6 L610.9 751.2 L612.7 748.8 L614.6 746.4 L616.4 744.0 L618.2 741.7 L620.1 739.3 L621.9 736.9 L623.8 734.6 L625.6 732.2 L627.5 729.8 L629.3 727.5 L631.1 725.1 L633.0 722.7 L634.8 720.4 L636.7 718.0 L638.6 715.7 L640.5 713.4 L642.4 711.1 L644.4 708.8 L646.4 706.6 L648.5 704.5 L650.6 702.4 L652.8 700.3 L655.0 698.2 L657.2 696.2 L659.5 694.3 L661.8 692.4 L664.2 690.6 L666.6 688.8 L669.0 687.1 L671.5 685.4 L674.0 683.8 L676.6 682.2 L679.1 680.6 L681.7 679.1 L684.3 677.6 L686.9 676.0 L689.4 674.5 L692.0 673.0 L694.6 671.4 L697.1 669.8 L699.7 668.2 L702.2 666.6 L704.7 665.0 L707.3 663.4 L709.8 661.8 L712.3 660.1 L714.8 658.5 L717.3 656.9 L719.8 655.2 L722.4 653.6 L724.9 652.0 L727.4 650.3 L729.9 648.7 L732.4 647.0 L734.9 645.4 L737.4 643.8 L740.0 642.1 L742.5 640.5 L745.0 638.9 L747.5 637.3 L750.1 635.7 L752.6 634.1 L755.2 632.5 L757.7 630.9 L760.3 629.4 L762.9 627.9 L765.5 626.4 L768.1 624.9 L770.7 623.4 L773.3 622.0 L776.0 620.6 L778.6 619.2 L781.3 617.9 L784.0 616.6 L786.8 615.3 L789.5 614.1 L792.2 612.9 L795.0 611.7 L797.7 610.5 L800.5 609.3 L803.2 608.0 L805.9 606.7 L808.6 605.5 L811.3 604.2 L814.1 602.9 L816.8 601.7 L819.5 600.4 L822.2 599.2 L825.0 597.9 L827.7 596.7 L830.4 595.4 L833.1 594.2 L835.9 592.9 L838.6 591.7 L841.4 590.5 L844.1 589.3 L846.9 588.1 L849.6 587.0 L852.4 585.8 L855.2 584.7 L858.0 583.7 L860.8 582.6 L863.6 581.6 L866.5 580.6 L869.3 579.6 L872.2 578.7 L875.0 577.8 L877.9 576.8 L880.7 575.9 L883.6 575.0 L886.4 574.0 L889.3 573.1 L892.1 572.1 L894.9 571.2 L897.8 570.2 L900.6 569.2 L903.4 568.1 L906.2 567.1 L909.0 566.0 L911.9 565.0 L914.7 564.0 L917.5 563.1 L920.4 562.3 L923.3 561.5 L926.2 560.7 L929.1 560.0 L932.1 559.4 L935.0 558.7 L937.9 558.1 L940.9 557.4 L943.8 556.8 L946.7 556.2 L949.7 555.7 L952.6 555.1 L955.6 554.6 L958.5 554.2 L961.5 553.7 L964.5 553.2 L967.4 552.8 L970.4 552.4 L973.4 551.9 L976.3 551.5 L979.3 551.1 L982.3 550.6 L985.2 550.2 L988.2 549.8 L991.2 549.3 L994.2 548.9 L997.1 548.5 L1000.1 548.1 L1003.1 547.8 L1006.1 547.5 L1009.1 547.2 L1012.0 547.1 L1015.0 547.0 L1018.0 547.0 L1021.0 547.0 L1024.0 547.0 L1027.0 547.1 L1030.0 547.3 L1033.0 547.4 L1036.0 547.6 L1039.0 547.7 L1042.0 547.8 L1045.0 547.7 L1048.0 547.4 L1050.9 547.0 L1053.9 546.7 L1056.8 546.4 L1059.8 546.3 L1062.8 546.3 L1065.8 546.4 L1068.8 546.6 L1071.7 546.9 L1074.7 547.2 L1077.7 547.5 L1080.7 547.8 L1083.7 548.2 L1086.7 548.5 L1089.6 548.8 L1092.6 549.2 L1095.6 549.6 L1098.6 550.0 L1101.5 550.5 L1104.5 551.1 L1107.4 551.7 L1110.3 552.4 L1113.2 553.2 L1116.1 553.9 L1119.0 554.7 L1121.9 555.5 L1124.8 556.3 L1127.7 557.2 L1130.5 558.0 L1133.4 558.8 L1136.3 559.7 L1139.2 560.5 L1142.1 561.4 L1144.9 562.2 L1147.8 563.1 L1150.7 563.9 L1153.6 564.8 L1156.4 565.6 L1159.3 566.5 L1162.2 567.3 L1165.1 568.2 L1167.9 569.1 L1170.8 570.0 L1173.7 570.8 L1176.6 571.6 L1179.5 572.3 L1182.4 573.0 L1185.3 573.7 L1188.3 574.2 L1191.2 574.8 L1194.2 575.3 L1197.1 575.8 L1200.1 576.2 L1203.1 576.6 L1206.0 577.0 L1209.0 577.3 L1212.0 577.7 L1215.0 578.0 L1218.0 578.4 L1220.9 578.7 L1223.9 579.1 L1226.9 579.4 L1229.9 579.9 L1232.8 580.4 L1235.8 581.0 L1238.7 581.6 L1241.6 582.3 L1244.5 583.1 L1247.4 583.8 L1250.3 584.6 L1253.2 585.3 L1256.1 586.1 L1259.0 586.8 L1261.9 587.6 L1264.9 588.3 L1267.8 589.0 L1270.7 589.6 L1273.6 590.2 L1276.6 590.7 L1279.6 591.2 L1282.5 591.5 L1285.5 591.7 L1288.5 591.8 L1291.5 591.8 L1294.5 591.5 L1297.4 591.1 L1300.3 590.6 L1303.2 589.8 L1306.1 588.9 L1308.9 587.9 L1311.6 586.7 L1314.3 585.3 L1316.9 583.9 L1319.4 582.3 L1321.9 580.6 L1324.3 578.8 L1326.7 577.0 L1329.0 575.1 L1331.2 573.1 L1333.3 571.0 L1335.3 568.7 L1337.1 566.4 L1338.8 563.9 L1340.4 561.4 L1342.0 558.8 L1343.5 556.2 L1345.0 553.7 L1346.5 551.1 L1348.1 548.5 L1349.6 545.9 L1351.0 543.2 L1352.3 540.6 L1353.6 537.8 L1354.7 535.1 L1355.7 532.3 L1356.7 529.4 L1357.6 526.6 L1358.5 523.7 L1359.4 520.8 L1360.2 518.0 L1361.1 515.1 L1361.9 512.2 L1362.8 509.3 L1363.6 506.5 L1364.5 503.6 L1365.3 500.7 L1366.2 497.8 L1367.1 495.0 L1367.9 492.1 L1368.8 489.2 L1369.7 486.4 L1370.6 483.5 L1371.4 480.6 L1372.3 477.7 L1373.1 474.8 L1373.8 471.9 L1374.6 469.0 L1375.3 466.1 L1376.0 463.2 L1376.7 460.3 L1377.4 457.4 L1378.1 454.5 L1378.9 451.5 L1379.6 448.6 L1380.3 445.7 L1381.0 442.8 L1381.6 439.9 L1382.2 436.9 L1382.8 434.0 L1383.4 431.0 L1383.9 428.1 L1384.4 425.1 L1384.9 422.2 L1385.4 419.2 L1385.9 416.3 L1386.4 413.3 L1386.8 410.3 L1387.3 407.4 L1387.8 404.4 L1388.3 401.4 L1388.8 398.5 L1389.4 395.5 L1390.0 392.6 L1390.6 389.7 L1391.3 386.8 L1392.1 383.9 L1392.8 381.0 L1393.6 378.1 L1394.3 375.2 L1395.1 372.2 L1395.8 369.3 L1396.5 366.4 L1397.3 363.5 L1398.0 360.6 L1398.7 357.7 L1399.5 354.8 L1400.2 351.9 L1400.9 349.0 L1401.7 346.1 L1402.4 343.2 L1403.1 340.2 L1403.8 337.3 L1404.5 334.4 L1405.3 331.5 L1406.0 328.6 L1406.7 325.7 L1407.4 322.8 L1408.2 319.9 L1408.9 317.0 L1409.7 314.1 L1410.5 311.2 L1411.3 308.3 L1412.1 305.4 L1413.1 302.5 L1414.0 299.7 L1415.1 296.9 L1416.1 294.1 L1417.4 291.4 L1418.9 288.8 L1420.9 286.6 L1423.3 284.9 L1426.1 284.5 L1428.9 285.5 L1431.3 287.3 L1433.1 289.6 L1434.3 292.4 L1435.0 295.3 L1435.9 298.1 L1436.8 301.0 L1437.6 303.9 L1438.5 306.8 L1439.3 309.6 L1440.1 312.5 L1440.8 315.4 L1441.5 318.4 L1442.2 321.3 L1442.8 324.2 L1443.4 327.2 L1444.0 330.1 L1444.6 333.0 L1445.1 336.0 L1445.7 338.9 L1446.3 341.9 L1446.9 344.8 L1447.5 347.8 L1448.1 350.7 L1448.6 353.6 L1449.2 356.6 L1449.7 359.6 L1450.2 362.5 L1450.7 365.5 L1451.1 368.4 L1451.6 371.4 L1452.1 374.4 L1452.6 377.3 L1453.0 380.3 L1453.5 383.2 L1454.0 386.2 L1454.5 389.2 L1454.9 392.1 L1455.4 395.1 L1455.9 398.1 L1456.4 401.0 L1456.8 404.0 L1457.3 406.9 L1457.8 409.9 L1458.2 412.9 L1458.7 415.8 L1459.2 418.8 L1459.6 421.8 L1460.0 424.7 L1460.5 427.7 L1460.9 430.7 L1461.3 433.6 L1461.8 436.6 L1462.2 439.6 L1462.7 442.5 L1463.2 445.5 L1463.6 448.5 L1464.1 451.4 L1464.5 454.4 L1464.9 457.4 L1465.3 460.3 L1465.7 463.3 L1466.1 466.3 L1466.5 469.3 L1466.9 472.2 L1467.3 475.2 L1467.7 478.2 L1468.1 481.2 L1468.5 484.1 L1468.9 487.1 L1469.2 490.1 L1469.6 493.1 L1470.0 496.0 L1470.4 499.0 L1470.8 502.0 L1471.2 505.0 L1471.7 507.9 L1472.2 510.9 L1472.6 513.8 L1473.1 516.8 L1473.6 519.8 L1474.1 522.7 L1474.6 525.7 L1475.1 528.6 L1475.6 531.6 L1476.1 534.6 L1476.6 537.5 L1477.0 540.5 L1477.5 543.5 L1477.9 546.4 L1478.3 549.4 L1478.8 552.4 L1479.2 555.3 L1479.6 558.3 L1480.0 561.3 L1480.4 564.2 L1480.8 567.2 L1481.2 570.2 L1481.6 573.2 L1482.0 576.1 L1482.3 579.1 L1482.7 582.1 L1483.0 585.1 L1483.3 588.1 L1483.6 591.0 L1483.9 594.0 L1484.2 597.0 L1484.5 600.0 L1484.8 603.0 L1485.1 606.0 L1485.4 609.0 L1485.7 612.0 L1486.0 614.9 L1486.2 617.9 L1486.5 620.9 L1486.8 623.9 L1487.1 626.9 L1487.4 629.9 L1487.7 632.8 L1488.1 635.8 L1488.4 638.8 L1488.8 641.8 L1489.3 644.7 L1489.7 647.7 L1490.1 650.7 L1490.6 653.6 L1491.0 656.6 L1491.5 659.6 L1491.9 662.5 L1492.4 665.5 L1492.8 668.5 L1493.3 671.4 L1493.7 674.4 L1494.1 677.4 L1494.6 680.4 L1495.0 683.3 L1495.4 686.3 L1495.9 689.3 L1496.3 692.2 L1496.7 695.2 L1497.1 698.2 L1497.5 701.1 L1497.9 704.1 L1498.3 707.1 L1498.7 710.1 L1499.1 713.0 L1499.5 716.0 L1499.9 719.0 L1500.3 722.0 L1500.8 724.9 L1501.2 727.9 L1501.6 730.9 L1502.1 733.8 L1502.6 736.8 L1503.1 739.7 L1503.6 742.7 L1504.2 745.6 L1504.8 748.6 L1505.3 751.5 L1506.0 754.5 L1506.6 757.4 L1507.2 760.3 L1507.8 763.3 L1508.4 766.2 L1509.1 769.1 L1509.8 772.1 L1510.5 775.0 L1511.3 777.8 L1512.2 780.7 L1513.1 783.6 L1514.1 786.4 L1515.1 789.2 L1516.1 792.0 L1517.2 794.8 L1518.3 797.6 L1519.5 800.4 L1520.9 803.0 L1522.4 805.6 L1524.0 808.2 L1525.8 810.5 L1528.0 812.5 L1530.5 814.1 L1533.2 815.4 L1535.9 816.6 L1538.6 817.9 L1541.3 819.3 L1543.9 820.8 L1546.4 822.4 L1548.9 824.2 L1551.2 826.1 L1553.5 828.0 L1555.7 830.0 L1558.0 832.0 L1560.1 834.1 L1562.2 836.2 L1564.2 838.4 L1566.2 840.7 L1568.0 843.0 L1569.9 845.4 L1571.6 847.9 L1573.3 850.3 L1575.0 852.8 L1576.7 855.2 L1578.4 857.7 L1580.1 860.2 L1581.7 862.7 L1583.3 865.3 L1585.0 867.8 L1586.6 870.3 L1588.2 872.8 L1589.8 875.4 L1591.4 877.9 L1593.1 880.4 L1594.8 882.9 L1596.4 885.4 L1598.1 887.8 L1599.9 890.3 L1601.6 892.8 L1603.3 895.2 L1605.0 897.7 L1606.7 900.2 L1608.4 902.6 L1610.1 905.1 L1611.8 907.6 L1613.5 910.0 L1615.2 912.5 L1616.9 915.0 L1618.6 917.5 L1620.2 920.0 L1621.9 922.5 L1623.5 925.0 L1625.2 927.5 L1626.8 930.0 L1628.5 932.5 L1630.1 935.0 L1631.8 937.5 L1633.4 940.0 L1635.1 942.5 L1636.7 945.0 L1638.4 947.5 L1640.1 950.0 L1641.8 952.5 L1643.5 955.0 L1645.2 957.4 L1646.9 959.9 L1648.6 962.3 L1650.4 964.8 L1652.1 967.2 L1653.9 969.6 L1655.7 972.1 L1657.4 974.5 L1659.2 976.9 L1661.0 979.3 L1662.9 981.7 L1664.7 984.0 L1666.5 986.4 L1668.3 988.8 L1670.2 991.2 L1672.0 993.6 L1673.8 996.0 L1675.6 998.4 L1677.4 1000.8 L1679.1 1003.2 L1680.9 1005.6 L1682.6 1008.1 L1684.4 1010.5 L1686.1 1013.0 L1687.8 1015.4 L1689.5 1017.9 L1691.2 1020.4 L1692.8 1022.9 L1694.5 1025.4 L1696.2 1027.9 L1697.8 1030.4 L1699.5 1032.9 L1701.1 1035.4 L1702.8 1037.9 L1704.5 1040.4 L1706.2 1042.9 L1707.8 1045.3 L1709.5 1047.8 L1711.2 1050.3 L1713.0 1052.7 L1714.7 1055.2 L1716.4 1057.6 L1718.2 1060.1 L1719.9 1062.5 L1721.7 1064.9 L1723.4 1067.4 L1725.2 1069.8 L1726.9 1072.3 L1728.7 1074.7 L1730.4 1077.2 L1732.1 1079.6 L1733.9 1082.0 L1735.6 1084.5 L1737.4 1086.9 L1739.2 1089.3 L1741.0 1091.7 L1742.8 1094.1 L1744.6 1096.5 L1746.5 1098.8 L1748.3 1101.2 L1750.1 1103.6 L1751.9 1106.0 L1753.8 1108.4 L1755.6 1110.7 L1757.4 1113.1 L1759.2 1115.5 L1761.1 1117.9 L1762.9 1120.3 L1764.8 1122.6 L1766.6 1125.0 L1768.5 1127.3 L1770.4 1129.6 L1772.3 1132.0 L1774.2 1134.3 L1776.1 1136.6 L1778.0 1138.9 L1779.9 1141.3 L1781.7 1143.6 L1783.5 1146.0 L1785.3 1148.4 L1787.1 1150.8 L1788.9 1153.2 L1790.6 1155.7 L1792.4 1158.1 L1794.1 1160.5 L1795.9 1163.0 L1797.7 1165.4 L1799.5 1167.8 L1801.2 1170.2 L1803.0 1172.6 L1804.8 1175.0 L1806.6 1177.4 L1808.4 1179.8 L1810.2 1182.2 L1812.0 1184.6 L1813.8 1187.0 L1815.6 1189.4 L1817.4 1191.8 L1819.2 1194.2 L1821.0 1196.6 L1822.8 1199.0 L1824.6 1201.4 L1826.4 1203.8 L1828.2 1206.2 L1830.1 1208.6 L1831.9 1211.0 L1833.7 1213.4 L1835.5 1215.8 L1837.3 1218.1 L1839.2 1220.5 L1841.0 1222.9 L1842.9 1225.2 L1844.8 1227.6 L1846.7 1229.9 L1848.6 1232.2 L1850.5 1234.5 L1852.5 1236.7 L1854.5 1239.0 L1856.4 1241.3 L1858.4 1243.5 L1860.3 1245.8 L1862.3 1248.1 L1864.2 1250.4 L1866.1 1252.7 L1868.0 1255.1 L1869.8 1257.4 L1871.7 1259.8 L1873.5 1262.1 L1875.4 1264.5 L1877.3 1266.8 L1879.1 1269.2 L1881.0 1271.5 L1882.8 1273.9 L1884.7 1276.3 L1886.5 1278.7 L1888.3 1281.0 L1890.1 1283.5 L1891.8 1285.9 L1893.6 1288.3 L1895.3 1290.8 L1897.1 1293.2 L1898.8 1295.7 L1900.6 1298.1 L1902.3 1300.5 L1904.1 1302.9 L1905.9 1305.3 L1907.7 1307.7 L1909.5 1310.1 L1911.3 1312.5 L1913.1 1314.9 L1914.9 1317.3 L1916.8 1319.7 L1918.6 1322.1 L1920.4 1324.4 L1922.2 1326.8 L1924.1 1329.2 L1925.9 1331.6 L1927.7 1333.9 L1929.6 1336.3 L1931.4 1338.7 L1933.2 1341.1 L1935.1 1343.5 L1936.9 1345.8 L1938.7 1348.2 L1940.5 1350.6 L1942.3 1353.1 L1944.0 1355.5 L1945.8 1357.9 L1947.6 1360.3 L1949.4 1362.7 L1951.2 1365.1 L1953.0 1367.5 L1954.9 1369.8 L1956.8 1372.1 L1958.8 1374.3 L1960.8 1376.6 L1962.9 1378.7 L1965.0 1380.9 L1967.1 1382.9 L1969.3 1385.0 L1971.6 1386.9 L1973.8 1388.9 L1976.0 1390.7" stroke="#ff0000" stroke-width="5.6" fill="none" stroke-linejoin="round" stroke-linecap="round"/>
<path d="M499.5 171.5 L502.5 171.2 L505.5 171.0 L508.5 170.7 L511.5 170.7 L514.4 171.0 L517.4 171.5 L520.3 172.3 L523.1 173.3 L525.9 174.5 L528.5 175.8 L531.2 177.1 L534.0 178.3 L536.9 178.9 L539.9 179.1 L542.9 179.0 L545.8 179.1 L548.7 179.8 L551.6 180.8 L554.4 181.8 L557.2 182.6 L560.2 182.6 L563.2 182.3 L566.1 182.4 L569.0 183.2 L571.7 184.3 L574.5 185.5 L577.4 186.2 L580.3 186.3 L583.3 186.0 L586.3 186.1 L589.1 186.9 L591.9 188.0 L594.7 189.1 L597.5 189.9 L600.5 189.9 L603.4 189.6 L606.4 189.9 L609.2 190.8 L612.0 191.9 L614.8 193.0 L617.7 193.9 L620.6 194.3 L623.6 194.2 L626.6 194.1 L629.5 194.5 L632.4 195.4 L635.2 196.5 L638.0 197.4 L640.9 197.5 L643.8 197.0 L646.7 196.2 L649.7 195.7 L652.6 196.0 L655.5 196.7 L658.4 197.4 L661.4 197.6 L664.3 197.1 L667.2 196.3 L670.1 195.6 L673.0 195.3 L675.9 195.8 L678.8 196.8 L681.6 197.8 L684.5 198.1 L687.3 197.3 L690.2 196.5 L693.1 196.3 L696.1 196.8 L699.0 197.5 L701.9 198.2 L704.8 198.7 L707.8 198.8 L710.8 198.5 L713.8 198.2 L716.8 198.1 L719.7 198.4 L722.5 199.3 L725.4 200.2 L728.3 200.6 L731.3 200.5 L734.2 200.0 L737.2 200.0 L740.1 200.7 L742.9 201.6 L745.8 202.4 L748.7 203.2 L751.7 203.6 L754.7 203.5 L757.6 203.5 L760.6 204.1 L763.4 205.0 L766.3 205.9 L769.1 206.9 L772.0 207.7 L774.9 208.1 L777.9 208.0 L780.9 207.8 L783.9 207.8 L786.8 208.5 L789.6 209.5 L792.4 210.4 L795.3 211.3 L798.2 211.9 L801.2 212.0 L804.2 211.9 L807.2 211.8 L810.2 212.1 L813.0 213.0 L815.9 213.8 L818.8 214.4 L821.8 214.3 L824.7 213.7 L827.7 213.4 L830.6 213.6 L833.5 214.3 L836.4 215.2 L839.3 215.9 L842.2 216.3 L845.2 215.9 L848.1 215.7 L851.0 216.1 L853.9 217.0 L856.8 217.9 L859.6 218.8 L862.6 219.4 L865.5 219.5 L868.5 219.1 L871.5 218.8 L874.4 218.6 L877.4 218.7 L880.2 219.6 L883.0 220.7 L885.8 221.5 L888.7 221.2 L891.5 220.2 L894.4 219.3 L897.3 218.7 L900.2 218.9 L903.2 219.5 L906.1 220.2 L909.0 220.6 L912.0 220.4 L914.9 219.6 L917.8 218.9 L920.7 218.1 L923.6 217.9 L926.4 218.5 L929.2 219.6 L932.1 220.1 L934.9 219.5 L937.7 218.5 L940.6 217.5 L943.5 216.9 L946.5 216.8 L949.4 217.0 L952.4 217.3 L955.4 217.6 L958.4 217.8 L961.4 218.0 L964.4 218.1 L967.4 218.1 L970.4 218.1 L973.3 218.7 L976.1 219.7 L978.9 220.5 L981.9 220.5 L984.8 219.9 L987.7 219.3 L990.7 218.8 L993.6 218.7 L996.6 219.4 L999.4 220.2 L1002.4 220.6 L1005.3 220.2 L1008.2 219.4 L1011.1 218.6 L1014.0 218.3 L1016.9 218.7 L1019.8 219.5 L1022.7 220.3 L1025.6 221.1 L1028.5 221.6 L1031.5 221.4 L1034.4 220.8 L1037.3 220.6 L1040.3 221.0 L1043.2 221.6 L1046.2 222.2 L1049.1 222.6 L1052.1 222.5 L1055.1 222.2 L1058.1 221.9 L1061.0 221.4 L1063.9 220.5 L1066.7 219.6 L1069.6 219.3 L1072.2 220.4 L1074.9 221.5 L1077.7 221.4 L1080.4 220.3 L1083.2 219.3 L1086.1 219.3 L1089.0 220.1 L1091.8 220.9 L1094.7 221.7 L1097.6 221.7 L1100.4 220.8 L1103.3 220.2 L1106.3 220.0 L1109.3 219.9 L1112.3 219.8 L1115.2 220.0 L1118.1 220.8 L1121.0 221.6 L1123.9 222.4 L1126.9 222.9 L1129.8 223.3 L1132.8 223.7 L1135.8 224.0 L1138.7 224.5 L1141.7 225.0 L1144.6 225.7 L1147.6 226.1 L1150.5 225.8 L1153.4 225.2 L1156.4 225.1 L1159.3 225.6 L1162.2 226.3 L1165.2 227.0 L1168.1 227.6 L1171.0 228.1 L1174.0 228.4 L1177.0 228.7 L1180.0 228.9 L1183.0 229.4 L1185.9 230.0 L1188.8 230.7 L1191.7 231.4 L1194.7 232.0 L1197.6 232.2 L1200.6 232.0 L1203.6 231.9 L1206.6 232.2 L1209.5 232.9 L1212.4 233.7 L1215.3 234.5 L1218.2 235.3 L1221.1 235.9 L1224.1 236.3 L1227.0 236.6 L1230.0 236.9 L1233.0 237.3 L1235.9 237.9 L1238.9 238.6 L1241.8 239.2 L1244.7 239.7 L1247.7 240.2 L1250.7 240.6 L1253.7 240.9 L1256.6 241.1 L1259.6 241.7 L1262.4 242.6 L1265.1 243.9 L1267.9 245.1 L1270.7 246.1 L1273.6 246.9 L1276.5 247.6 L1279.4 248.2 L1282.4 248.9 L1285.3 249.6 L1288.2 250.4 L1291.1 251.1 L1294.0 251.8 L1296.9 252.5 L1299.8 253.2 L1302.8 253.9 L1305.7 254.6 L1308.5 255.5 L1311.4 256.4 L1314.2 257.4 L1317.0 258.5 L1319.8 259.7 L1322.5 260.9 L1325.3 262.1 L1328.0 263.3 L1330.6 264.8 L1333.3 266.1 L1335.9 267.6 L1338.5 269.1 L1341.1 270.6 L1343.7 272.2 L1346.2 273.8 L1348.7 275.4 L1351.2 277.1 L1353.6 278.8 L1356.1 280.6 L1358.5 282.3 L1360.9 284.1 L1363.3 285.9 L1365.6 287.8 L1368.0 289.7 L1370.3 291.6 L1372.5 293.6 L1374.7 295.6 L1376.8 297.8 L1378.7 300.0 L1380.6 302.4 L1382.4 304.8 L1384.1 307.2 L1385.8 309.7 L1387.5 312.2 L1389.1 314.7 L1390.7 317.2 L1392.2 319.8 L1393.7 322.4 L1395.1 325.1 L1396.4 327.8 L1397.7 330.5 L1398.9 333.2 L1400.2 335.9 L1401.4 338.7 L1402.6 341.4 L1403.8 344.2 L1405.0 346.9 L1406.1 349.7 L1407.3 352.5 L1408.4 355.2 L1409.6 358.0 L1410.7 360.8 L1411.8 363.6 L1412.9 366.4 L1414.0 369.2 L1415.2 371.9 L1416.3 374.7 L1417.5 377.5 L1418.6 380.2 L1419.7 383.0 L1420.8 385.8 L1421.9 388.6 L1422.9 391.5 L1423.8 394.3 L1424.7 397.2 L1425.6 400.0 L1426.4 402.9 L1427.2 405.8 L1427.9 408.7 L1428.7 411.6 L1429.4 414.5 L1430.1 417.5 L1430.8 420.4 L1431.5 423.3 L1432.1 426.2 L1432.8 429.1 L1433.5 432.1 L1434.2 435.0 L1434.8 437.9 L1435.5 440.8 L1436.2 443.8 L1436.9 446.7 L1437.6 449.6 L1438.3 452.5 L1439.0 455.4 L1439.7 458.3 L1440.5 461.2 L1441.3 464.1 L1442.0 467.0 L1442.8 469.9 L1443.6 472.8 L1444.4 475.7 L1445.2 478.6 L1446.0 481.5 L1446.7 484.4 L1447.5 487.3 L1448.3 490.2 L1449.0 493.1 L1449.8 496.0 L1450.5 498.9 L1451.3 501.8 L1452.1 504.7 L1452.9 507.6 L1453.8 510.5 L1454.6 513.4 L1455.5 516.2 L1456.3 519.1 L1457.2 522.0 L1458.1 524.8 L1459.1 527.7 L1460.1 530.5 L1461.1 533.3 L1462.1 536.2 L1463.1 539.0 L1464.2 541.8 L1465.3 544.6 L1466.4 547.3 L1467.5 550.1 L1468.6 552.9 L1469.8 555.7 L1470.9 558.5 L1472.0 561.3 L1473.1 564.1 L1474.2 566.9 L1475.3 569.6 L1476.4 572.4 L1477.5 575.2 L1478.7 578.0 L1480.0 580.7 L1481.2 583.4 L1482.6 586.1 L1483.9 588.8 L1485.3 591.4 L1486.7 594.1 L1488.1 596.7 L1489.5 599.4 L1491.0 602.0 L1492.4 604.6 L1493.9 607.2 L1495.4 609.9 L1496.8 612.5 L1498.3 615.1 L1499.7 617.7 L1501.2 620.3 L1502.7 623.0 L1504.1 625.6 L1505.6 628.2 L1507.0 630.8 L1508.5 633.5 L1509.9 636.1 L1511.4 638.7 L1512.8 641.3 L1514.3 643.9 L1515.8 646.5 L1517.3 649.1 L1518.9 651.7 L1520.5 654.2 L1522.2 656.7 L1523.8 659.2 L1525.6 661.6 L1527.3 664.1 L1529.1 666.5 L1530.9 668.9 L1532.7 671.3 L1534.5 673.7 L1536.3 676.1 L1538.1 678.5 L1539.9 680.9 L1541.7 683.3 L1543.5 685.7 L1545.3 688.1 L1547.1 690.5 L1549.0 692.8 L1550.9 695.1 L1552.9 697.4 L1554.8 699.7 L1556.8 701.9 L1558.8 704.2 L1560.8 706.4 L1562.8 708.7 L1564.8 710.9 L1566.8 713.1 L1568.7 715.4 L1570.7 717.6 L1572.8 719.9 L1574.8 722.1 L1576.8 724.3 L1578.8 726.5 L1580.8 728.7 L1582.8 731.0 L1584.9 733.2 L1586.9 735.4 L1588.9 737.6 L1590.9 739.8 L1592.9 742.1 L1594.9 744.3 L1596.9 746.5 L1599.0 748.7 L1601.0 751.0 L1603.0 753.2 L1605.0 755.4 L1607.1 757.6 L1609.1 759.8 L1611.2 761.9 L1613.3 764.1 L1615.4 766.2 L1617.6 768.3 L1619.8 770.3 L1622.0 772.4 L1624.2 774.4 L1626.4 776.4 L1628.6 778.4 L1630.8 780.5 L1632.9 782.6 L1635.0 784.8 L1637.1 786.9 L1639.1 789.1 L1641.2 791.3 L1643.2 793.5 L1645.3 795.7 L1647.3 797.9 L1649.4 800.0 L1651.5 802.2 L1653.6 804.3 L1655.7 806.4 L1657.9 808.6 L1660.0 810.7 L1662.1 812.8 L1664.2 814.9 L1666.3 817.1 L1668.4 819.3 L1670.4 821.5 L1672.4 823.7 L1674.5 825.8 L1676.6 828.0 L1678.7 830.1 L1680.9 832.2 L1683.1 834.2 L1685.3 836.2 L1687.5 838.2 L1689.8 840.2 L1692.0 842.2 L1694.2 844.2 L1696.4 846.3 L1698.5 848.4 L1700.6 850.5 L1702.7 852.7 L1704.6 855.0 L1706.6 857.3 L1708.5 859.6 L1710.4 861.9 L1712.4 864.1 L1714.4 866.3 L1716.5 868.5 L1718.6 870.6 L1720.6 872.8 L1722.6 875.0 L1724.6 877.3 L1726.5 879.6 L1728.3 882.0 L1730.1 884.4 L1732.0 886.8 L1733.8 889.1 L1735.6 891.5 L1737.5 893.9 L1739.4 896.2 L1741.3 898.5 L1743.3 900.8 L1745.3 903.0 L1747.3 905.1 L1749.4 907.3 L1751.4 909.5 L1753.4 911.8 L1755.3 914.1 L1757.1 916.5 L1758.9 918.9 L1760.6 921.3 L1762.4 923.7 L1764.2 926.1 L1766.1 928.5 L1767.9 930.8 L1769.9 933.1 L1771.9 935.3 L1773.9 937.5 L1775.9 939.8 L1777.7 942.1 L1779.5 944.5 L1781.2 946.9 L1782.9 949.4 L1784.5 951.9 L1786.1 954.5 L1787.8 957.0 L1789.5 959.4 L1791.3 961.8 L1793.1 964.2 L1794.9 966.6 L1796.8 968.9 L1798.7 971.2 L1800.6 973.6 L1802.5 975.9 L1804.4 978.2 L1806.2 980.6 L1808.0 983.0 L1809.8 985.4 L1811.5 987.9 L1813.2 990.4 L1814.8 992.8 L1816.6 995.3 L1818.3 997.7 L1820.1 1000.2 L1821.8 1002.6 L1823.6 1005.0 L1825.3 1007.5 L1826.9 1010.0 L1828.6 1012.5 L1830.2 1015.0 L1831.8 1017.6 L1833.4 1020.1 L1835.1 1022.6 L1836.7 1025.1 L1838.3 1027.6 L1839.9 1030.1 L1841.5 1032.7 L1843.0 1035.3 L1844.5 1037.9 L1845.9 1040.5 L1847.4 1043.1 L1848.9 1045.8 L1850.4 1048.4 L1851.9 1050.9 L1853.4 1053.5 L1855.0 1056.1 L1856.6 1058.6 L1858.2 1061.1 L1859.8 1063.7 L1861.4 1066.2 L1863.1 1068.7 L1864.7 1071.2 L1866.3 1073.8 L1867.9 1076.3 L1869.4 1078.9 L1870.9 1081.5 L1872.3 1084.1 L1873.7 1086.8 L1875.1 1089.5 L1876.4 1092.1 L1877.8 1094.8 L1879.2 1097.4 L1880.6 1100.1 L1882.1 1102.7 L1883.6 1105.3 L1885.1 1107.9 L1886.6 1110.5 L1888.1 1113.1 L1889.6 1115.7 L1891.1 1118.3 L1892.6 1120.9 L1894.1 1123.5 L1895.6 1126.1 L1897.1 1128.7 L1898.5 1131.3 L1899.9 1134.0 L1901.3 1136.6 L1902.7 1139.3 L1904.0 1142.0 L1905.3 1144.7 L1906.7 1147.4 L1908.0 1150.1 L1909.2 1152.8 L1910.5 1155.5 L1911.6 1158.3 L1912.7 1161.1 L1913.8 1163.9 L1914.7 1166.7 L1915.7 1169.5 L1916.7 1172.3 L1917.8 1175.1 L1918.9 1177.9 L1920.1 1180.6 L1921.4 1183.4 L1922.7 1186.1 L1924.0 1188.8 L1925.2 1191.5 L1926.5 1194.2 L1927.7 1197.0 L1928.9 1199.7 L1930.1 1202.4 L1931.3 1205.2 L1932.5 1208.0 L1933.7 1210.7 L1934.9 1213.5 L1936.1 1216.2 L1937.3 1219.0 L1938.4 1221.7 L1939.6 1224.5 L1940.8 1227.2 L1942.0 1230.0 L1943.2 1232.8 L1944.4 1235.5 L1945.6 1238.2 L1946.9 1241.0 L1948.1 1243.7 L1949.4 1246.4 L1950.6 1249.1 L1951.9 1251.9 L1953.2 1254.6 L1954.5 1257.3 L1955.7 1260.0 L1956.9 1262.8 L1958.1 1265.5 L1959.3 1268.3 L1960.4 1271.1 L1961.5 1273.9 L1962.6 1276.7 L1963.6 1279.5 L1964.6 1282.3 L1965.7 1285.1 L1966.7 1287.9 L1967.7 1290.8 L1968.6 1293.6 L1969.5 1296.5 L1970.4 1299.3 L1971.2 1302.2 L1972.0 1305.1 L1972.7 1308.0 L1973.4 1310.9 L1974.0 1313.9 L1974.6 1316.8 L1975.2 1319.7 L1975.8 1322.5 L1976.0 1323.7" stroke="#0000ff" stroke-width="6.0" fill="none" stroke-linejoin="round" stroke-linecap="round"/>
</g>
<g font-family="'Liberation Serif','Times New Roman',serif" font-weight="bold" font-size="56" fill="#000">
<path d="M1430.5 283 L1463 268.9 M1545.9 823 L1565.7 916.6" stroke="#808080" stroke-width="2.6" fill="none"/>
<text x="22" y="61" fill="#007b78" letter-spacing="2.5">DrDTA</text>
<text x="19" y="133.5" fill="#007b78" letter-spacing="1.8">(mW/min)</text>
<text x="293.5" y="128.5" fill="#0000ff" letter-spacing="1.6">TGA <tspan dx="4">(%)</tspan></text>
<text x="1866" y="147" fill="#ff0000" letter-spacing="2.8">DTA (mW)</text>
<text x="1150" y="1614" text-anchor="middle" letter-spacing="1.7">Temperature (°C)</text>
</g>
</svg>
</body></html>
